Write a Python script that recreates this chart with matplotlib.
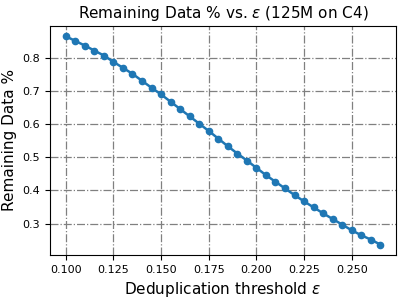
import numpy as np
import matplotlib
matplotlib.use("Agg")
import matplotlib.pyplot as plt

eps = [0.100, 0.105, 0.110, 0.115, 0.120, 0.125, 0.130, 0.135, 0.140, 0.145,
       0.150, 0.155, 0.160, 0.165, 0.170, 0.175, 0.180, 0.185, 0.190, 0.195,
       0.200, 0.205, 0.210, 0.215, 0.220, 0.225, 0.230, 0.235, 0.240, 0.245,
       0.250, 0.255, 0.260, 0.265]
remaining = [0.864, 0.850, 0.836, 0.821, 0.806, 0.787, 0.769, 0.751, 0.730, 0.709,
             0.689, 0.667, 0.645, 0.623, 0.601, 0.579, 0.556, 0.533, 0.511, 0.490,
             0.468, 0.446, 0.426, 0.406, 0.386, 0.367, 0.349, 0.331, 0.314, 0.297,
             0.280, 0.265, 0.252, 0.237]

fig, ax = plt.subplots(figsize=(4.07, 3.01), dpi=100)
fig.subplots_adjust(left=0.123, right=0.973, top=0.914, bottom=0.153)

ax.plot(eps, remaining, marker="o", markersize=4.5, linewidth=1.8, color="#1f77b4")
ax.grid(True, linestyle="-.", color="gray", linewidth=0.9)
ax.tick_params(labelsize=8)
ax.set_xticks([0.100, 0.125, 0.150, 0.175, 0.200, 0.225, 0.250])
ax.set_title(r"Remaining Data % vs. $\epsilon$ (125M on C4)", fontsize=11)
ax.set_xlabel(r"Deduplication threshold $\epsilon$", fontsize=11)
ax.set_ylabel("Remaining Data %", fontsize=11)

fig.savefig("out.png")
